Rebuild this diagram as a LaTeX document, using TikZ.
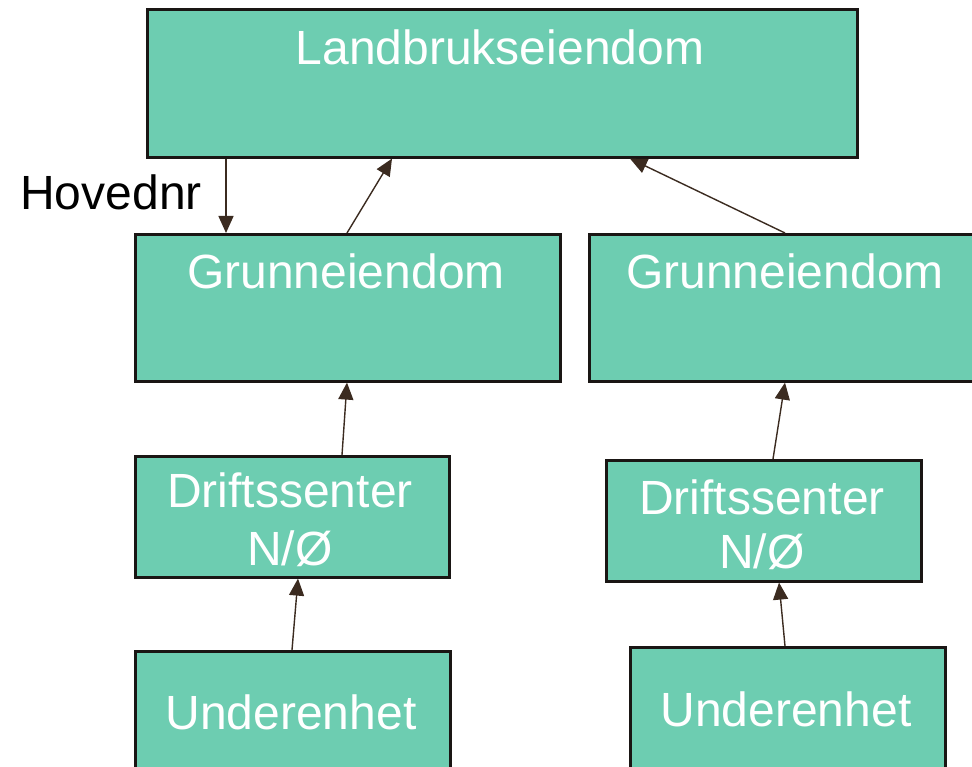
\documentclass[tikz,border=0pt]{standalone}
\usepackage{fontspec}
\setmainfont{Liberation Sans}
\usetikzlibrary{arrows.meta}
\usetikzlibrary{positioning}

\begin{document}
\begin{tikzpicture}[x=1pt,y=-1pt]
      \definecolor{boxfill}{HTML}{6DCDB1}
      \definecolor{boxline}{HTML}{1A1614}
      \definecolor{arrline}{HTML}{3B2B20}
      \tikzset{
        box/.style={draw=boxline, line width=2.6pt, fill=boxfill, anchor=north west, inner sep=0pt},
        lbl/.style={white, anchor=base, inner sep=0pt, font=\fontsize{48}{56}\selectfont},
        link/.style={arrline, line width=1.4pt, -{Triangle[length=17pt,width=15pt]}}
      }
      \useasboundingbox (0,0) rectangle (972,767);
      % boxes
      \node[box, minimum width=710pt, minimum height=148pt] (land) at (146,8) {};
      \node[box, minimum width=425pt, minimum height=147pt] (grunnL) at (134,233) {};
      \node[box, minimum width=425pt, minimum height=147pt] (grunnR) at (588,233) {};
      \node[box, minimum width=314pt, minimum height=121pt] (driftL) at (134,455) {};
      \node[box, minimum width=315pt, minimum height=121pt] (driftR) at (605,459) {};
      \node[box, minimum width=315pt, minimum height=150pt] (underL) at (134,650) {};
      \node[box, minimum width=315pt, minimum height=150pt] (underR) at (629,646) {};
      % texts
      \node[lbl] at (500,65) {Landbrukseiendom};
      \node[lbl] at (346,289) {Grunneiendom};
      \node[lbl] at (785,289) {Grunneiendom};
      \node[lbl] at (290,507) {Driftssenter};
      \node[lbl] at (290,565) {N/Ø};
      \node[lbl] at (762,514) {Driftssenter};
      \node[lbl] at (762,568) {N/Ø};
      \node[lbl] at (291,729) {Underenhet};
      \node[lbl] at (786,726) {Underenhet};
      \node[lbl, black] (hoved) at (111,210) {Hovednr};
      % arrows
      \draw[link] ([xshift=80pt]land.south west) -- ([xshift=92pt]grunnL.north west);
      \draw[link] ([xshift=213pt]grunnL.north west) -- ([xshift=246pt]land.south west);
      \draw[link] ([xshift=197pt]grunnR.north west) -- ([xshift=484pt]land.south west);
      \draw[link] ([xshift=208pt]driftL.north west) -- ([xshift=213pt]grunnL.south west);
      \draw[link] ([xshift=168pt]driftR.north west) -- ([xshift=197pt]grunnR.south west);
      \draw[link] ([xshift=158pt]underL.north west) -- ([xshift=164pt]driftL.south west);
      \draw[link] ([xshift=156pt]underR.north west) -- ([xshift=174pt]driftR.south west);
\end{tikzpicture}
\end{document}
